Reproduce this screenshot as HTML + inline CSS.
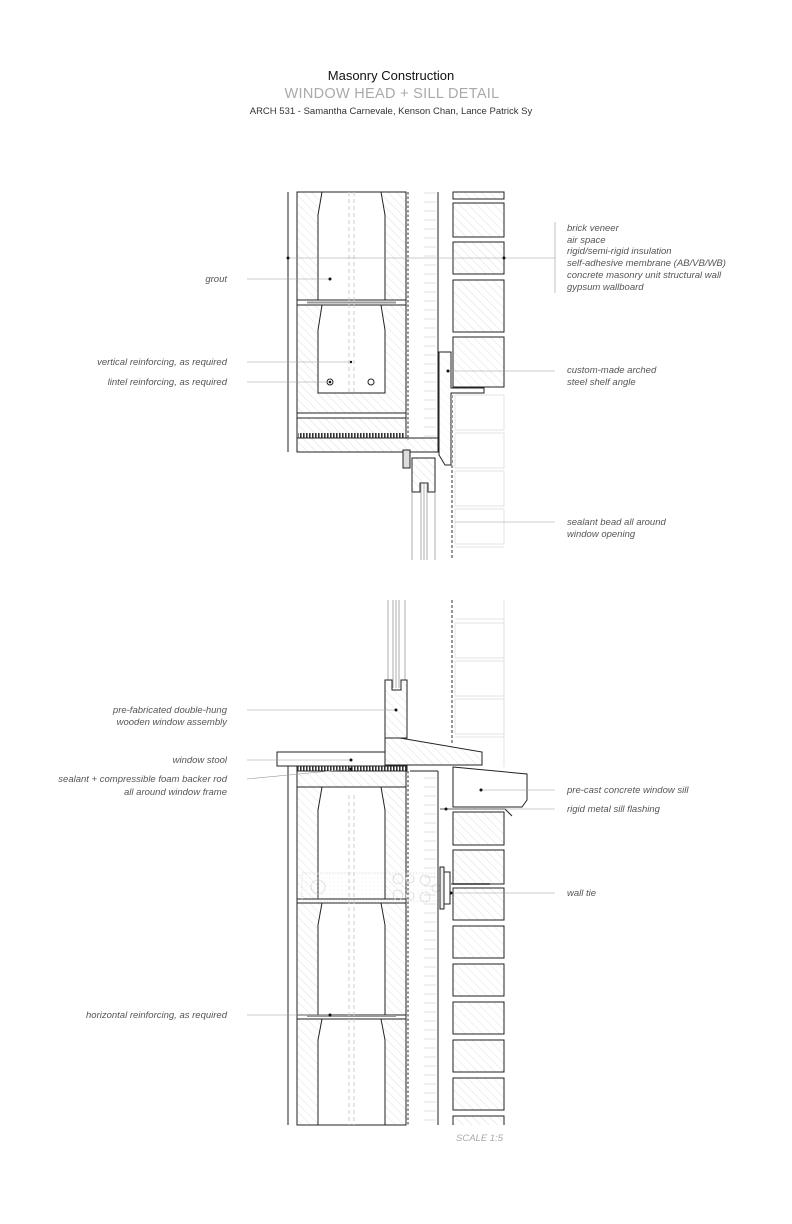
<!DOCTYPE html>
<html><head><meta charset="utf-8">
<style>
html,body{margin:0;padding:0;background:#fff;}
svg{display:block;}
text{font-family:"Liberation Sans",sans-serif;}
.lbl{font-size:9.5px;font-style:italic;fill:#555;}
</style></head>
<body>
<svg width="792" height="1224" viewBox="0 0 792 1224" xmlns="http://www.w3.org/2000/svg">
<defs>
<pattern id="hat" width="6" height="6" patternUnits="userSpaceOnUse" patternTransform="rotate(-45)">
<line x1="0" y1="0" x2="0" y2="6" stroke="#c4c4c4" stroke-width="0.5"/></pattern>
<pattern id="hatL" width="6" height="6" patternUnits="userSpaceOnUse" patternTransform="rotate(-45)">
<line x1="0" y1="0" x2="0" y2="6" stroke="#ddd" stroke-width="0.5"/></pattern>
<pattern id="ins" width="28" height="9" patternUnits="userSpaceOnUse">
<line x1="4" y1="4" x2="16" y2="4" stroke="#ccc" stroke-width="0.6"/></pattern>
<pattern id="rod" width="3" height="6" patternUnits="userSpaceOnUse">
<rect x="0" y="0" width="1.6" height="6" fill="#333"/></pattern>
<pattern id="grout" width="4" height="4" patternUnits="userSpaceOnUse">
<circle cx="2" cy="2" r="0.4" fill="#ccc"/></pattern>
</defs>

<text x="391" y="80" font-size="13" text-anchor="middle" fill="#111">Masonry Construction</text>
<text x="392" y="98" font-size="14.5" text-anchor="middle" fill="#aaa" style="letter-spacing:0.3px">WINDOW HEAD + SILL DETAIL</text>
<text x="391" y="114" font-size="9.5" text-anchor="middle" fill="#333">ARCH 531 - Samantha Carnevale, Kenson Chan, Lance Patrick Sy</text>

<!-- HEAD -->
<g stroke="#222" stroke-width="1" fill="none">
<g stroke="#ddd" stroke-width="0.8">
<rect x="455" y="395" width="49" height="35"/><rect x="455" y="433" width="49" height="35"/>
<rect x="455" y="471" width="49" height="35"/><rect x="455" y="509" width="49" height="35"/>
<line x1="455" y1="547" x2="504" y2="547"/>
</g>
<rect x="453" y="192" width="51" height="7" fill="url(#hat)"/>
<rect x="453" y="203" width="51" height="34" fill="url(#hat)"/>
<rect x="453" y="242" width="51" height="32" fill="url(#hat)"/>
<rect x="453" y="280" width="51" height="52" fill="url(#hat)"/>
<rect x="453" y="337" width="51" height="50" fill="url(#hat)"/>
<rect x="410" y="192" width="28" height="248" fill="url(#ins)" stroke="none"/>
<line x1="438" y1="192" x2="438" y2="440"/>
<line x1="408" y1="192" x2="408" y2="440" stroke-dasharray="2.5,2" stroke="#555" stroke-width="1.2"/>
<line x1="288" y1="192" x2="288" y2="452"/>
<rect x="297" y="192" width="109" height="246" fill="url(#hat)"/>
<path d="M322 192 L318 215 L318 300 L385 300 L385 215 L381 192 Z" fill="#fff"/>
<rect x="297" y="300" width="109" height="5" fill="#fff"/>
<line x1="307" y1="302.5" x2="396" y2="302.5" stroke="#999" stroke-width="2"/>
<path d="M322 305 L318 330 L318 393 L385 393 L385 330 L381 305 Z" fill="#fff"/>
<line x1="349" y1="192" x2="349" y2="393" stroke="#ccc" stroke-dasharray="4,3"/>
<line x1="354" y1="192" x2="354" y2="393" stroke="#ccc" stroke-dasharray="4,3"/>
<circle cx="330" cy="382" r="3"/><circle cx="330" cy="382" r="0.8" fill="#222"/>
<circle cx="371" cy="382" r="3"/>
<rect x="297" y="413" width="109" height="5" fill="#fff"/>
<rect x="298" y="433" width="106" height="5" fill="url(#rod)" stroke="none"/>
<rect x="297" y="438" width="141" height="14" fill="url(#hat)"/>
<path d="M439 352 L451 352 L451 388 L484 388 L484 393 L451 393 L451 465 L445 465 L439 455 Z" fill="url(#hatL)"/>
<line x1="452" y1="395" x2="452" y2="560" stroke="#999" stroke-width="2" stroke-dasharray="3,2"/>
<rect x="403" y="450" width="7" height="18" fill="#ddd"/>
<path d="M412 458 L435 458 L435 492 L428 492 L428 483 L420 483 L420 492 L412 492 Z" fill="url(#hat)"/>
<g stroke="#999" stroke-width="0.8">
<line x1="412" y1="492" x2="412" y2="560"/><line x1="435" y1="492" x2="435" y2="560"/>
<line x1="421" y1="484" x2="421" y2="560"/><line x1="424" y1="484" x2="424" y2="560"/><line x1="427" y1="484" x2="427" y2="560"/>
</g>
</g>

<g stroke="#999" stroke-width="0.6">
<line x1="247" y1="279" x2="330" y2="279"/>
<line x1="247" y1="362" x2="351" y2="362"/>
<line x1="247" y1="382" x2="330" y2="382"/>
<line x1="288" y1="258" x2="555" y2="258"/>
<line x1="555" y1="222" x2="555" y2="293"/>
<line x1="448" y1="371" x2="555" y2="371"/>
<line x1="455" y1="522" x2="555" y2="522"/>
</g>
<g fill="#111"><circle cx="330" cy="279" r="1.5"/><circle cx="351" cy="362" r="1.2"/><circle cx="288" cy="258" r="1.5"/><circle cx="504" cy="258" r="1.5"/><circle cx="448" cy="371" r="1.5"/><circle cx="330" cy="382" r="1"/></g>
<text class="lbl" x="227" y="282" text-anchor="end">grout</text>
<text class="lbl" x="227" y="365" text-anchor="end">vertical reinforcing, as required</text>
<text class="lbl" x="227" y="385" text-anchor="end">lintel reinforcing, as required</text>
<text class="lbl" x="567" y="231">brick veneer</text>
<text class="lbl" x="567" y="243">air space</text>
<text class="lbl" x="567" y="254">rigid/semi-rigid insulation</text>
<text class="lbl" x="567" y="266">self-adhesive membrane (AB/VB/WB)</text>
<text class="lbl" x="567" y="278">concrete masonry unit structural wall</text>
<text class="lbl" x="567" y="290">gypsum wallboard</text>
<text class="lbl" x="567" y="373">custom-made arched</text>
<text class="lbl" x="567" y="385">steel shelf angle</text>
<text class="lbl" x="567" y="525">sealant bead all around</text>
<text class="lbl" x="567" y="537">window opening</text>

<!-- SILL -->
<g stroke="#222" stroke-width="1" fill="none">
<g stroke="#ddd" stroke-width="0.8">
<line x1="455" y1="619" x2="504" y2="619"/>
<rect x="455" y="623" width="49" height="35"/><rect x="455" y="661" width="49" height="35"/>
<rect x="455" y="699" width="49" height="35"/><line x1="455" y1="737" x2="504" y2="737"/>
<line x1="504" y1="600" x2="504" y2="767"/>
</g>
<line x1="452" y1="600" x2="452" y2="745" stroke="#999" stroke-width="2" stroke-dasharray="3,2"/>
<g stroke="#999" stroke-width="0.8">
<line x1="388" y1="600" x2="388" y2="680"/><line x1="405" y1="600" x2="405" y2="680"/>
<line x1="393" y1="600" x2="393" y2="688"/><line x1="396" y1="600" x2="396" y2="688"/><line x1="399" y1="600" x2="399" y2="688"/>
</g>
<path d="M385 680 L392 680 L392 690 L401 690 L401 680 L407 680 L407 738 L385 738 Z" fill="url(#hat)"/>
<path d="M385 738 L400 738 L482 752 L482 765 L385 765 Z" fill="url(#hat)"/>
<rect x="277" y="752" width="108" height="14" fill="#fff"/>
<rect x="297" y="766" width="110" height="5" fill="url(#rod)" stroke="#222"/>
<path d="M453 767 L527 774 L527 800 L522 807 L453 807 Z" fill="#fff"/>
<path d="M440 809 L505 809 L512 816"/>
<line x1="288" y1="766" x2="288" y2="1125"/>
<rect x="297" y="771" width="109" height="354" fill="url(#hat)"/>
<line x1="297" y1="787" x2="406" y2="787"/>
<path d="M322 787 L318 810 L318 899 L385 899 L385 810 L381 787 Z" fill="#fff"/>
<rect x="297" y="899" width="109" height="4" fill="#fff"/>
<path d="M322 903 L318 925 L318 1015 L385 1015 L385 925 L381 903 Z" fill="#fff"/>
<rect x="297" y="1015" width="109" height="4" fill="#fff"/>
<line x1="307" y1="1016" x2="396" y2="1016" stroke="#999" stroke-width="2"/>
<path d="M322 1019 L318 1040 L318 1125 L385 1125 L385 1040 L381 1019 Z" fill="#fff"/>
<line x1="349" y1="795" x2="349" y2="1125" stroke="#ccc" stroke-dasharray="4,3"/>
<line x1="354" y1="795" x2="354" y2="1125" stroke="#ccc" stroke-dasharray="4,3"/>
<rect x="302" y="873" width="140" height="28" fill="url(#grout)" stroke="#ccc" stroke-dasharray="1.5,1.5" stroke-width="0.6"/>
<circle cx="318" cy="887" r="7" stroke="#ccc" stroke-width="0.6"/>
<g stroke="#ccc" stroke-width="0.6">
<circle cx="398" cy="879" r="5"/><circle cx="398" cy="895" r="5"/><circle cx="410" cy="879" r="4"/><circle cx="425" cy="880" r="5"/><circle cx="425" cy="897" r="5"/><circle cx="436" cy="888" r="4"/><circle cx="410" cy="896" r="4"/>
</g>
<rect x="410" y="771" width="28" height="354" fill="url(#ins)" stroke="none"/>
<line x1="438" y1="771" x2="438" y2="1125"/>
<line x1="408" y1="771" x2="408" y2="1125" stroke-dasharray="2.5,2" stroke="#555" stroke-width="1.2"/>
<line x1="410" y1="771" x2="438" y2="771"/>
<rect x="440" y="867" width="4" height="42" fill="#eee"/>
<rect x="444" y="872" width="6" height="32" fill="#fff"/>
<line x1="450" y1="884" x2="490" y2="884" stroke="#999" stroke-width="2"/>
<rect x="453" y="812" width="51" height="33" fill="url(#hat)"/>
<rect x="453" y="850" width="51" height="34" fill="url(#hat)"/>
<rect x="453" y="888" width="51" height="32" fill="url(#hat)"/>
<rect x="453" y="926" width="51" height="32" fill="url(#hat)"/>
<rect x="453" y="964" width="51" height="32" fill="url(#hat)"/>
<rect x="453" y="1002" width="51" height="32" fill="url(#hat)"/>
<rect x="453" y="1040" width="51" height="32" fill="url(#hat)"/>
<rect x="453" y="1078" width="51" height="32" fill="url(#hat)"/>
<path d="M453 1125 L453 1116 L504 1116 L504 1125" fill="url(#hat)"/>
</g>

<g stroke="#999" stroke-width="0.6">
<line x1="247" y1="710" x2="396" y2="710"/>
<line x1="247" y1="760" x2="351" y2="760"/>
<line x1="247" y1="779" x2="351" y2="769"/>
<line x1="481" y1="790" x2="555" y2="790"/>
<line x1="440" y1="809" x2="555" y2="809"/>
<line x1="450" y1="893" x2="555" y2="893"/>
<line x1="247" y1="1015" x2="330" y2="1015"/>
</g>
<g fill="#111"><circle cx="396" cy="710" r="1.5"/><circle cx="351" cy="760" r="1.5"/><circle cx="351" cy="769" r="1.5"/><circle cx="481" cy="790" r="1.5"/><circle cx="446" cy="809" r="1.5"/><circle cx="451" cy="893" r="1.5"/><circle cx="330" cy="1015" r="1.5"/></g>
<text class="lbl" x="227" y="713" text-anchor="end">pre-fabricated double-hung</text>
<text class="lbl" x="227" y="725" text-anchor="end">wooden window assembly</text>
<text class="lbl" x="227" y="763" text-anchor="end">window stool</text>
<text class="lbl" x="227" y="782" text-anchor="end">sealant + compressible foam backer rod</text>
<text class="lbl" x="227" y="795" text-anchor="end">all around window frame</text>
<text class="lbl" x="567" y="793">pre-cast concrete window sill</text>
<text class="lbl" x="567" y="812">rigid metal sill flashing</text>
<text class="lbl" x="567" y="896">wall tie</text>
<text class="lbl" x="227" y="1018" text-anchor="end">horizontal reinforcing, as required</text>
<text x="456" y="1141" font-size="9.5" font-style="italic" fill="#aaa">SCALE 1:5</text>
</svg>
</body></html>
